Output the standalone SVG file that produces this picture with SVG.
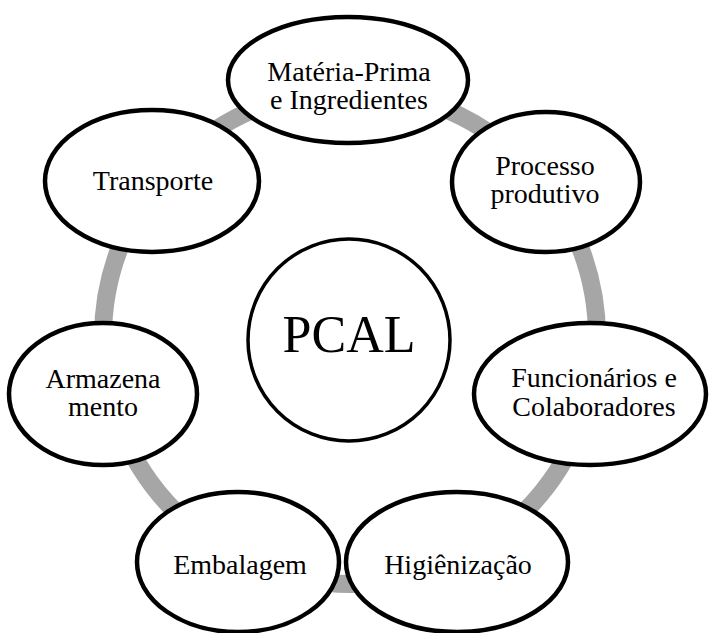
<svg xmlns="http://www.w3.org/2000/svg" width="710" height="633" viewBox="0 0 710 633">
  <style>
    .ring { fill: none; stroke: #A6A6A6; stroke-width: 18; }
    .node { fill: #FFFFFF; stroke: #000000; stroke-width: 4.5; }
    .hub { fill: #FFFFFF; stroke: #000000; stroke-width: 3.5; }
    .label { font-family: "Liberation Serif", "Times New Roman", serif; font-size: 28px; fill: #000000; text-anchor: middle; }
    .hub-label { font-family: "Liberation Serif", "Times New Roman", serif; font-size: 52px; fill: #000000; text-anchor: middle; }
  </style>

  <!-- cycle ring linking the stages -->
  <g id="connectors">
    <circle class="ring" cx="350" cy="337" r="247"/>
  </g>

  <g id="materia-prima">
    <ellipse class="node" cx="348" cy="80" rx="120" ry="63"/>
    <text class="label"><tspan x="349" y="81">Matéria-Prima</tspan><tspan x="349" y="109">e Ingredientes</tspan></text>
  </g>

  <g id="processo">
    <ellipse class="node" cx="546" cy="182" rx="94" ry="70"/>
    <text class="label"><tspan x="545" y="175">Processo</tspan><tspan x="545" y="203">produtivo</tspan></text>
  </g>

  <g id="funcionarios">
    <ellipse class="node" cx="590" cy="394" rx="116" ry="71"/>
    <text class="label"><tspan x="594" y="387">Funcionários e</tspan><tspan x="594" y="416">Colaboradores</tspan></text>
  </g>

  <g id="higienizacao">
    <ellipse class="node" cx="457" cy="562" rx="111" ry="70"/>
    <text class="label" x="458" y="574">Higiênização</text>
  </g>

  <g id="embalagem">
    <ellipse class="node" cx="238" cy="562" rx="101" ry="70"/>
    <text class="label" x="240" y="574">Embalagem</text>
  </g>

  <g id="armazenamento">
    <ellipse class="node" cx="103" cy="394" rx="94" ry="71"/>
    <text class="label"><tspan x="103" y="388">Armazena</tspan><tspan x="103" y="416">mento</tspan></text>
  </g>

  <g id="transporte">
    <ellipse class="node" cx="152" cy="181" rx="107" ry="71"/>
    <text class="label" x="153" y="190">Transporte</text>
  </g>

  <g id="pcal">
    <circle class="hub" cx="349" cy="340" r="101"/>
    <text class="hub-label" x="349" y="352">PCAL</text>
  </g>
</svg>
